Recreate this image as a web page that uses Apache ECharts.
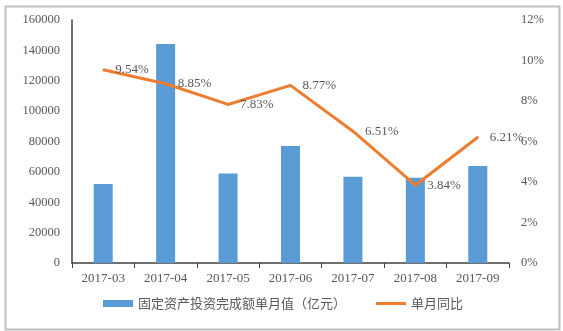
<!DOCTYPE html>
<html>
<head>
<meta charset="utf-8">
<script src="https://cdn.jsdelivr.net/npm/echarts@6/dist/echarts.min.js"></script>
<style>
  html, body { margin: 0; padding: 0; background: #fff; }
  #chart { width: 563px; height: 331px; }
</style>
</head>
<body>
<div id="chart"></div>
<script>
// Monthly fixed-asset investment and its year-on-year change
const months = ['2017-03', '2017-04', '2017-05', '2017-06', '2017-07', '2017-08', '2017-09'];
const investment = [52000, 144200, 59000, 77000, 56800, 56200, 63900];
const yoyPct = [9.54, 8.85, 7.83, 8.77, 6.51, 3.84, 6.21];
const barName = '固定资产投资完成额单月值（亿元）';
const lineName = '单月同比';

const serif = '"Liberation Serif", "Times New Roman", serif';
const cjk = '"Noto Sans CJK SC", sans-serif';
const textGrey = '#595959';
const orange = '#ED7D31';

const chart = echarts.init(document.getElementById('chart'), null, { renderer: 'canvas' });
chart.setOption({
  animation: false,
  backgroundColor: '#fff',
  graphic: [{
    type: 'rect',
    left: 3, top: 4,
    shape: { width: 554, height: 323 },
    style: { fill: 'none', stroke: '#bfbfbf', lineWidth: 2 }
  }],
  grid: { left: 72, right: 54, top: 20, bottom: 68 },
  legend: {
    bottom: 16,
    left: 98,
    itemWidth: 30,
    itemHeight: 7,
    itemGap: 30,
    textStyle: { fontFamily: cjk, fontSize: 13, color: textGrey },
    data: [
      { name: barName, icon: 'rect' },
      { name: lineName, icon: 'path://M0,0L30,0L30,3L0,3Z', itemStyle: { color: orange } }
    ]
  },
  xAxis: {
    type: 'category',
    data: months,
    axisLine: { lineStyle: { color: '#404040', width: 1.5 } },
    axisTick: { show: true, length: 5, lineStyle: { color: '#404040' } },
    axisLabel: { fontFamily: serif, fontSize: 13, color: textGrey, margin: 9 }
  },
  yAxis: [{
    type: 'value',
    min: 0, max: 160000, interval: 20000,
    axisLine: { show: true, lineStyle: { color: '#404040', width: 1.5 } },
    axisTick: { show: false },
    splitLine: { show: false },
    axisLabel: { fontFamily: serif, fontSize: 12.5, color: textGrey, margin: 12, formatter: v => String(v) }
  }, {
    type: 'value',
    min: 0, max: 12, interval: 2,
    position: 'right',
    axisLine: { show: false },
    axisTick: { show: false },
    splitLine: { show: false },
    axisLabel: { fontFamily: serif, fontSize: 12.5, color: textGrey, margin: 12, formatter: '{value}%' }
  }],
  series: [{
    name: barName,
    type: 'bar',
    data: investment,
    barWidth: 19,
    itemStyle: { color: '#5B9BD5' }
  }, {
    name: lineName,
    type: 'line',
    yAxisIndex: 1,
    data: yoyPct,
    symbol: 'circle',
    symbolSize: 2,
    showSymbol: true,
    lineStyle: { color: orange, width: 3 },
    itemStyle: { color: orange },
    label: {
      show: true,
      position: 'right',
      distance: 11,
      fontFamily: serif,
      fontSize: 13,
      color: textGrey,
      formatter: p => p.value.toFixed(2) + '%'
    }
  }]
});
</script>
</body>
</html>
